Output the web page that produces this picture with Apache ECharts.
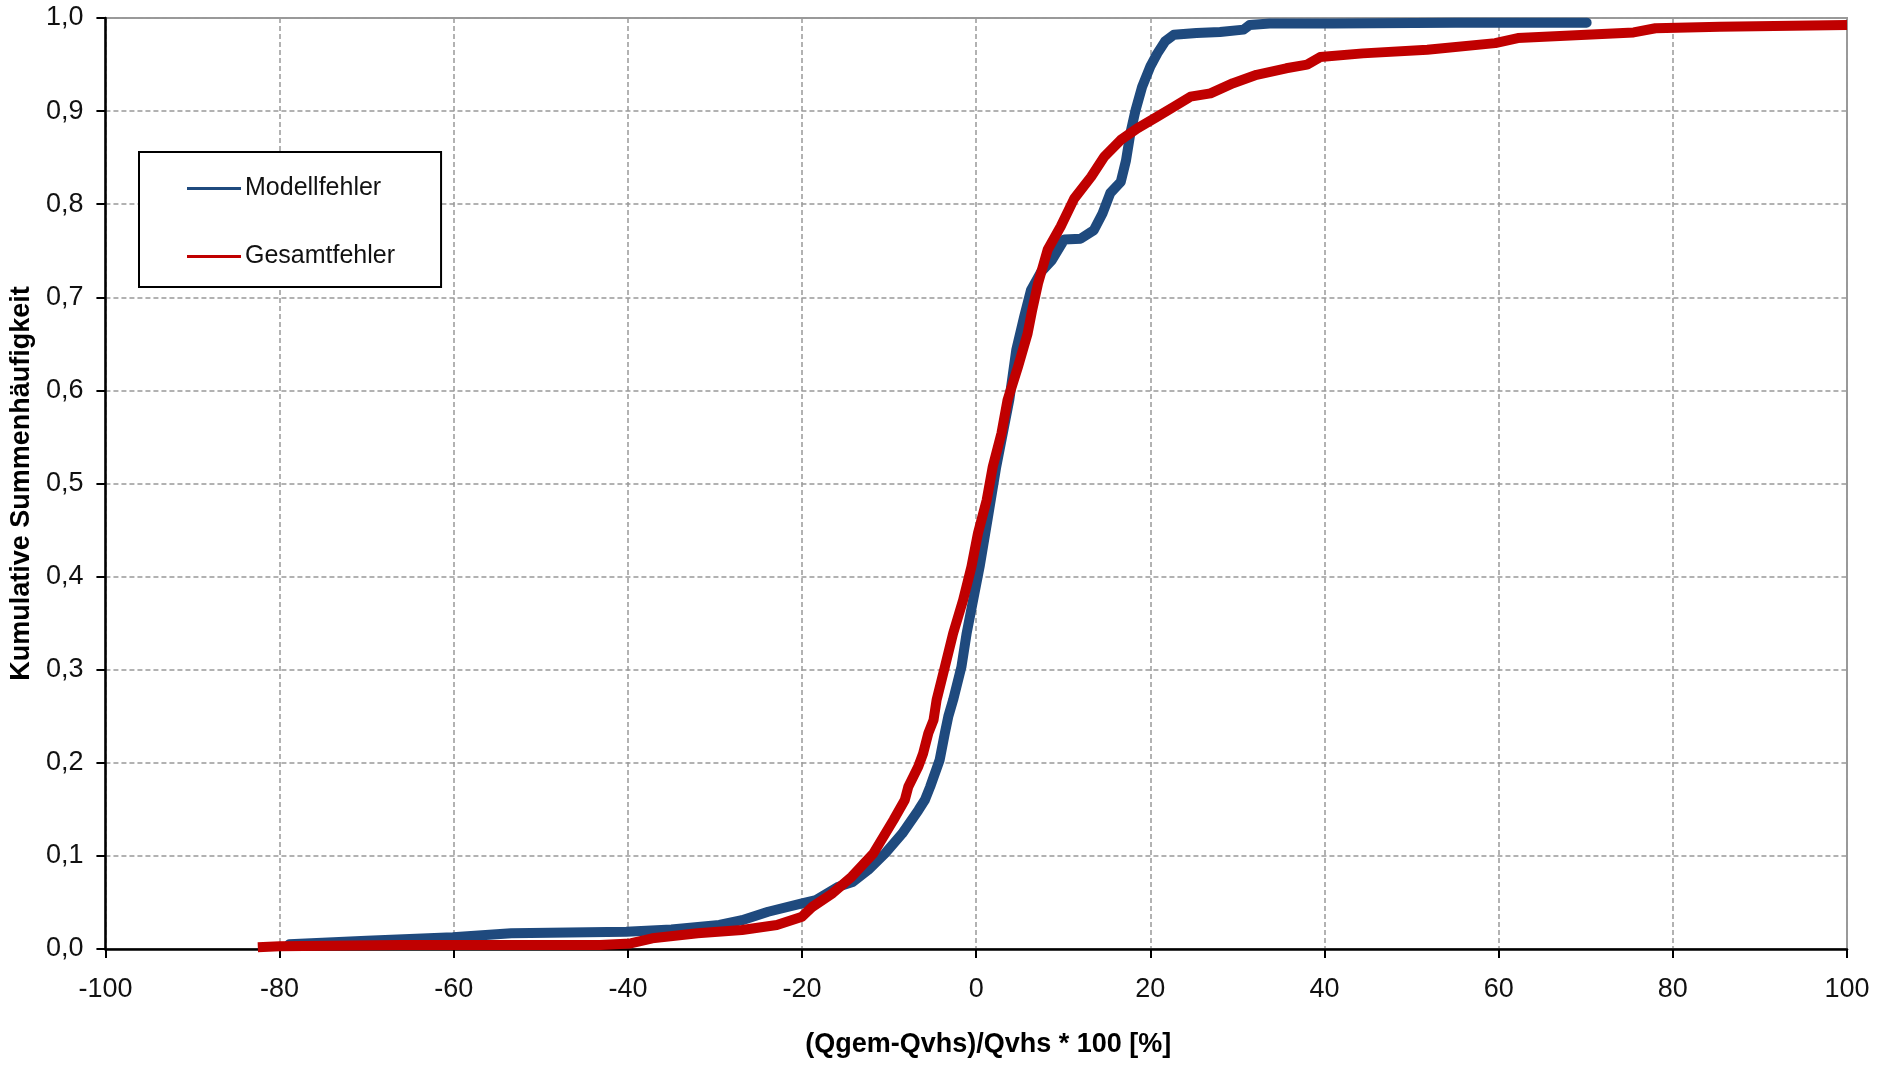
<!DOCTYPE html>
<html>
<head>
<meta charset="utf-8">
<script src="https://cdn.jsdelivr.net/npm/echarts@6/dist/echarts.min.js"></script>
<style>
html,body{margin:0;padding:0;background:#fff;}
#chart{width:1878px;height:1065px;}
</style>
</head>
<body>
<div id="chart"></div>
<script>
// ---- data ----
const seriesNames = ['Modellfehler', 'Gesamtfehler'];

const modellX = [-78.9, -70, -60.1, -53.4, -40.2, -35, -29.5, -26.9, -23.9, -20, -18.4, -15.8, -14.2, -12.4, -10.45, -8.5, -6.65, -5.9, -5.3, -4.2, -3.6, -3.2, -2.65, -1.7, -1.1, -0.35, 0.4, 1.35, 2.3, 3.8, 4.6, 5.5, 6.3, 7.5, 8.7, 10.1, 12.0, 13.5, 14.5, 15.4, 16.6, 17.2, 17.7, 18.3, 19.05, 20.0, 20.8, 21.7, 22.7, 25.3, 28.0, 30.7, 31.4, 33.7, 40.9, 55, 70.1];
const modellY = [0.005, 0.009, 0.0126, 0.0169, 0.0186, 0.021, 0.0258, 0.031, 0.040, 0.049, 0.0526, 0.067, 0.072, 0.085, 0.1028, 0.124, 0.149, 0.160, 0.174, 0.203, 0.232, 0.250, 0.2675, 0.303, 0.339, 0.375, 0.411, 0.464, 0.518, 0.590, 0.6435, 0.679, 0.708, 0.728, 0.740, 0.762, 0.763, 0.772, 0.790, 0.812, 0.824, 0.847, 0.876, 0.901, 0.926, 0.948, 0.962, 0.975, 0.982, 0.984, 0.985, 0.9875, 0.9925, 0.994, 0.994, 0.995, 0.995];

const gesamtX = [-82.5, -80, -66.2, -43.2, -39.7, -37.2, -32.0, -26.9, -22.9, -20, -18.8, -16.5, -14.3, -11.8, -9.5, -8.2, -7.8, -6.65, -6.1, -5.5, -4.9, -4.55, -3.6, -2.65, -1.5, -0.55, 0.2, 1.2, 1.9, 2.9, 3.6, 4.8, 5.9, 6.4, 7.1, 8.2, 9.7, 11.25, 13.2, 14.7, 16.6, 18.5, 20.8, 22.7, 24.6, 26.9, 29.5, 32.2, 35.6, 38, 39.5, 44.4, 51.8, 59.6, 62.2, 75.5, 78.0, 85.4, 100];
const gesamtY = [0.002, 0.003, 0.0043, 0.0043, 0.006, 0.0115, 0.017, 0.0204, 0.0258, 0.0347, 0.0454, 0.0598, 0.0777, 0.1028, 0.1386, 0.160, 0.1743, 0.196, 0.210, 0.2317, 0.246, 0.2675, 0.303, 0.339, 0.375, 0.4106, 0.4465, 0.482, 0.518, 0.554, 0.5897, 0.6255, 0.661, 0.685, 0.715, 0.751, 0.776, 0.806, 0.8295, 0.851, 0.869, 0.8815, 0.894, 0.9047, 0.9155, 0.919, 0.930, 0.939, 0.946, 0.950, 0.958, 0.962, 0.966, 0.973, 0.9785, 0.9845, 0.989, 0.9907, 0.9925];

const xMin = -100, xMax = 100, xStep = 20;
const yMin = 0, yMax = 1, yStep = 0.1;
const xTitle = '(Qgem-Qvhs)/Qvhs * 100 [%]';
const yTitle = 'Kumulative Summenhäufigkeit';

// ---- chart ----
const FONT = 'Liberation Sans, Arial, sans-serif';
function pairs(xs, ys) { return xs.map((x, i) => [x, ys[i]]); }

const chart = echarts.init(document.getElementById('chart'), null, {renderer: 'canvas'});
chart.setOption({
  animation: false,
  backgroundColor: '#ffffff',
  grid: {
    left: 96, right: 31, top: 18, bottom: 116,
    show: true, borderColor: '#9a9a9a', borderWidth: 2, backgroundColor: 'transparent'
  },
  legend: {
    orient: 'vertical',
    left: 139, top: 152,
    padding: [24, 46, 18, 48],
    icon: 'rect',
    itemWidth: 54, itemHeight: 3, itemGap: 43,
    borderColor: '#000', borderWidth: 2,
    backgroundColor: '#fff',
    textStyle: {fontFamily: FONT, fontSize: 25, color: '#111', padding: [0, 0, 0, -1]},
    data: seriesNames
  },
  xAxis: {
    type: 'value', min: xMin, max: xMax, interval: xStep,
    name: xTitle, nameLocation: 'middle', nameGap: 82,
    nameTextStyle: {fontFamily: FONT, fontSize: 27, fontWeight: 'bold', color: '#000', padding: [0, 0, 0, 24]},
    axisLine: {onZero: false, lineStyle: {color: '#000', width: 2.5}},
    axisTick: {show: true, inside: false, length: 9, lineStyle: {color: '#000', width: 2}},
    axisLabel: {fontFamily: FONT, fontSize: 27, color: '#111', margin: 27},
    splitLine: {show: true, lineStyle: {color: '#999', width: 1.5, type: [5, 3]}}
  },
  yAxis: {
    type: 'value', min: yMin, max: yMax, interval: yStep,
    name: yTitle, nameLocation: 'middle', nameGap: 56, nameRotate: 90,
    nameTextStyle: {fontFamily: FONT, fontSize: 27, fontWeight: 'bold', color: '#000'},
    axisLine: {show: true, onZero: false, lineStyle: {color: '#000', width: 2.5}},
    axisTick: {show: true, inside: false, length: 9, lineStyle: {color: '#000', width: 2}},
    axisLabel: {fontFamily: FONT, fontSize: 27, color: '#111', margin: 22,
      formatter: v => v.toFixed(1).replace('.', ',')},
    splitLine: {show: true, lineStyle: {color: '#999', width: 1.5, type: [5, 3]}}
  },
  series: [
    {
      name: seriesNames[0], type: 'line', symbol: 'none', showSymbol: false,
      data: pairs(modellX, modellY),
      lineStyle: {color: '#1F4A7E', width: 10, join: 'round', cap: 'round'},
      itemStyle: {color: '#1F4A7E'}
    },
    {
      name: seriesNames[1], type: 'line', symbol: 'none', showSymbol: false,
      data: pairs(gesamtX, gesamtY),
      lineStyle: {color: '#C00000', width: 10, join: 'round', cap: 'butt'},
      itemStyle: {color: '#C00000'}
    }
  ]
});
</script>
</body>
</html>
